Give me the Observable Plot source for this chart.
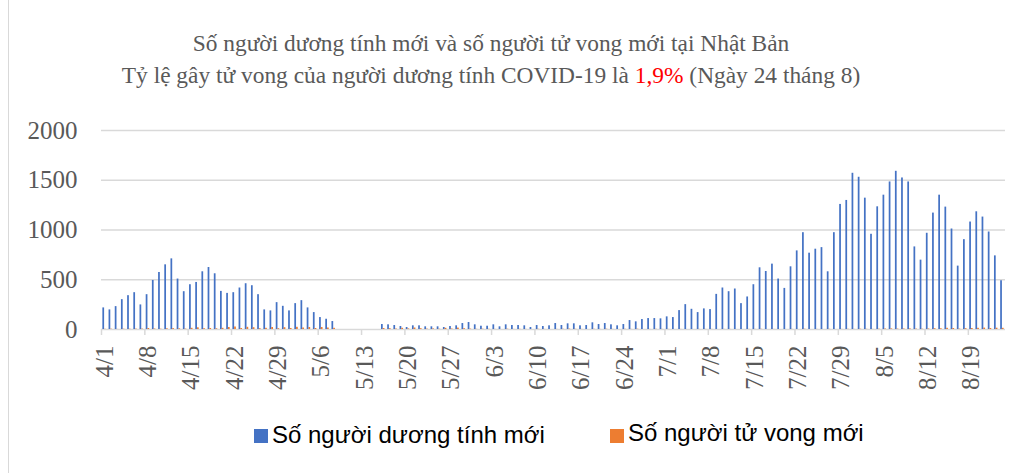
<!DOCTYPE html>
<html><head><meta charset="utf-8">
<script src="https://cdn.jsdelivr.net/npm/d3@7"></script>
<script src="https://cdn.jsdelivr.net/npm/@observablehq/plot@0.6"></script>
<style>
body{margin:0;background:#fff;width:1022px;height:473px;overflow:hidden;position:relative}
#frame{position:absolute;left:8px;top:0;height:473px;border-left:1px solid #d9d9d9}
.t{position:absolute;left:0;width:982px;text-align:center;font-family:"Liberation Serif","Times New Roman",serif;font-size:23.4px;color:#595959;white-space:nowrap;line-height:1}
#chart{position:absolute;left:0;top:110px}
.lg{position:absolute;font-family:"Liberation Sans",Arial,sans-serif;font-size:24px;color:#000;white-space:nowrap;line-height:1}
.sw{position:absolute;width:14px;height:14px}
</style></head><body>
<div id="frame"></div>
<div class="t" style="top:32px">Số người dương tính mới và số người tử vong mới tại Nhật Bản</div>
<div class="t" style="top:64px">Tỷ lệ gây tử vong của người dương tính COVID-19 là <span style="color:#ff0000">1,9%</span> (Ngày 24 tháng 8)</div>
<div id="chart"></div>
<div class="sw" style="left:254px;top:429px;background:#4472C4"></div>
<div class="lg" style="left:272px;top:423px">Số người dương tính mới</div>
<div class="sw" style="left:610px;top:429px;background:#ED7D31"></div>
<div class="lg" style="left:628px;top:421px">Số người tử vong mới</div>
<script>
// categories: every day from 4/1 to 8/24
const dates = d3.utcDay.range(new Date(Date.UTC(2020,3,1)), new Date(Date.UTC(2020,7,25)))
  .map(d => (d.getUTCMonth()+1) + "/" + d.getUTCDate());
const tickLabels = ["4/1","4/8","4/15","4/22","4/29","5/6","5/13","5/20","5/27","6/3","6/10","6/17","6/24","7/1","7/8","7/15","7/22","7/29","8/5","8/12","8/19"];
const yTicks = [0,500,1000,1500,2000];
const N = null;
const positives = [
  // April
  217,197,230,300,340,370,247,350,493,573,650,710,507,380,450,473,580,623,560,383,363,370,417,460,440,350,197,187,270,233,
  // May
  187,260,290,217,170,120,103,80,N,N,N,N,N,N,N,50,47,40,30,20,37,37,27,27,27,20,30,37,60,70,47,
  // June
  33,33,47,27,47,40,40,37,20,40,30,37,60,40,57,57,37,40,67,50,60,47,37,50,90,77,100,110,110,107,
  // July
  127,120,190,250,203,170,207,200,353,417,380,407,260,327,450,620,583,657,507,413,630,790,973,767,807,823,580,973,1257,1297,1570,
  // August
  1530,1320,957,1233,1350,1483,1590,1523,1483,830,697,967,1170,1350,1230,1010,637,903,1080,1183,1130,980,740,490
];
const deaths = [
  // April
  2,3,1,3,3,4,4,10,5,3,7,9,7,4,12,17,8,10,7,12,20,25,10,22,18,8,12,20,8,18,
  // May
  10,22,15,20,10,20,15,12,N,N,N,N,N,N,N,10,8,5,12,6,15,8,4,6,3,12,5,14,8,4,2,
  // June
  3,2,1,0,3,1,2,1,0,2,1,0,1,2,4,2,1,0,2,1,3,1,0,2,1,3,0,1,2,1,
  // July
  1,0,1,0,0,1,1,1,0,1,1,0,0,1,1,2,0,1,0,0,1,0,3,0,1,0,2,0,1,2,1,
  // August
  3,2,1,3,5,6,4,5,6,4,3,5,8,7,12,10,4,8,10,12,14,10,13,12
];
const rows = dates.map((d,i) => ({i, d, pos: positives[i], death: deaths[i]}));
const tickIdx = tickLabels.map(l => dates.indexOf(l));

const chart = Plot.plot({
  width: 1022, height: 289,
  marginLeft: 101, marginRight: 17, marginTop: 20, marginBottom: 70,
  style: {color: "#595959", background: "transparent", overflow: "visible"},
  x: {domain: [0, dates.length], axis: null},
  y: {domain: [0, 2000], axis: null},
  marks: [
    Plot.ruleY(yTicks, {stroke: "#d9d9d9", strokeWidth: 1.5}),
    Plot.axisX(tickIdx, {tickSize: 6, tickFormat: () => "", stroke: "#d9d9d9", strokeWidth: 1.5, label: null}),
    Plot.axisY(yTicks, {tickSize: 0, tickPadding: 24, tickFormat: d => String(d), fontSize: 25, fontFamily: "Liberation Serif, serif", fill: "#595959", label: null}),
    Plot.text(tickIdx, {x: i => i + 0.5, frameAnchor: "bottom", text: i => dates[i], rotate: -90, textAnchor: "end", lineAnchor: "middle", dy: 16, fontSize: 25, fontFamily: "Liberation Serif, serif", fill: "#595959"}),
    Plot.rectY(rows.filter(r => r.pos != null), {x1: r => r.i + 0.22, x2: r => r.i + 0.5, y: "pos", fill: "#4472C4"}),
    Plot.rectY(rows.filter(r => r.death != null), {x1: r => r.i + 0.5, x2: r => r.i + 0.78, y: "death", fill: "#ED7D31"})
  ]
});
document.getElementById("chart").append(chart);
</script>
</body></html>
